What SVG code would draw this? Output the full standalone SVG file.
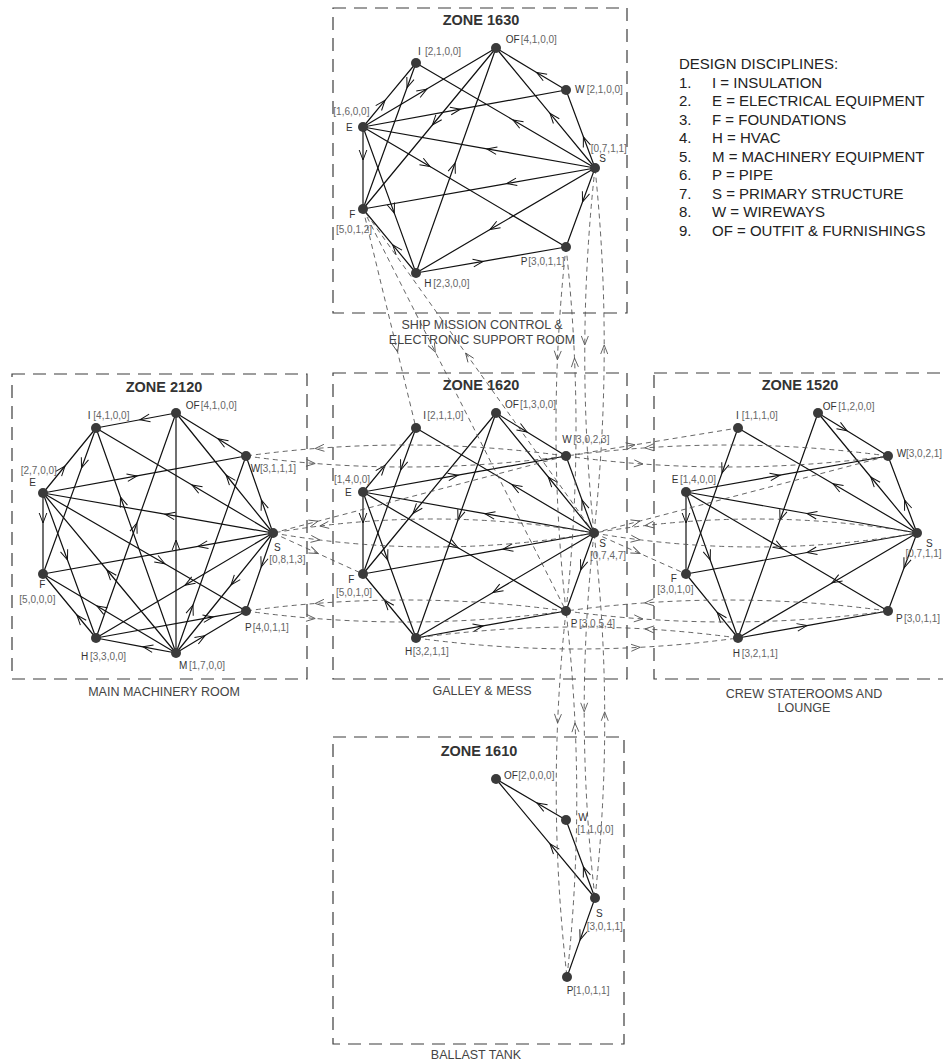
<svg xmlns="http://www.w3.org/2000/svg" width="943" height="1061" viewBox="0 0 943 1061">
<defs>
<style>
text{font-family:"Liberation Sans",Arial,sans-serif}
.zone{fill:none;stroke:#3c3c3c;stroke-width:1.2;stroke-dasharray:13 8}
.title{font-size:14.5px;font-weight:bold;fill:#333;text-anchor:middle}
.cap{font-size:12.5px;fill:#444;text-anchor:middle}
.n{fill:#3a3a3a}
.l{font-size:10px;fill:#333}
.b{font-size:10px;fill:#666}
.e{fill:none;stroke:#111;stroke-width:1.2;marker-mid:url(#a)}
.d{fill:none;stroke:#555;stroke-width:0.9;stroke-dasharray:5 4;marker-mid:url(#ad)}
.leg{font-size:15px;fill:#222}
</style>
<marker id="a" viewBox="-11 -5 13 10" refX="0" refY="0" markerWidth="13" markerHeight="10" markerUnits="userSpaceOnUse" orient="auto"><path d="M-10,-3.8L0,0L-10,3.8" fill="none" stroke="#111" stroke-width="1"/></marker>
<marker id="ad" viewBox="-11 -5 13 10" refX="0" refY="0" markerWidth="13" markerHeight="10" markerUnits="userSpaceOnUse" orient="auto"><path d="M-9,-3.5L0,0L-9,3.5" fill="none" stroke="#555" stroke-width="0.9"/></marker>
</defs>
<rect width="943" height="1061" fill="#fff"/>

<g id="zones">
<g id="zone-1630"><rect class="zone" x="333" y="8" width="294" height="305"/><text class="title" x="481" y="25">ZONE 1630</text><text class="cap" x="482" y="329">SHIP MISSION CONTROL &amp;</text><text class="cap" x="482" y="344">ELECTRONIC SUPPORT ROOM</text></g>
<g id="zone-2120"><rect class="zone" x="12" y="374" width="295" height="305"/><text class="title" x="164" y="392">ZONE 2120</text><text class="cap" x="164" y="696">MAIN MACHINERY ROOM</text></g>
<g id="zone-1620"><rect class="zone" x="333" y="373" width="294" height="306"/><text class="title" x="481" y="390">ZONE 1620</text><text class="cap" x="482" y="695">GALLEY &amp; MESS</text></g>
<g id="zone-1520"><rect class="zone" x="654" y="373" width="300" height="306"/><text class="title" x="800" y="390">ZONE 1520</text><text class="cap" x="804" y="698">CREW STATEROOMS AND</text><text class="cap" x="804" y="712">LOUNGE</text></g>
<g id="zone-1610"><rect class="zone" x="333" y="737" width="291" height="307"/><text class="title" x="479" y="756">ZONE 1610</text><text class="cap" x="476" y="1059">BALLAST TANK</text></g>
</g>

<g id="legend">
<text class="leg" x="679" y="69">DESIGN DISCIPLINES:</text>
<text class="leg" x="679" y="87.5">1.</text><text class="leg" x="712" y="87.5">I = INSULATION</text>
<text class="leg" x="679" y="106">2.</text><text class="leg" x="712" y="106">E = ELECTRICAL EQUIPMENT</text>
<text class="leg" x="679" y="124.5">3.</text><text class="leg" x="712" y="124.5">F = FOUNDATIONS</text>
<text class="leg" x="679" y="143">4.</text><text class="leg" x="712" y="143">H = HVAC</text>
<text class="leg" x="679" y="161.5">5.</text><text class="leg" x="712" y="161.5">M = MACHINERY EQUIPMENT</text>
<text class="leg" x="679" y="180">6.</text><text class="leg" x="712" y="180">P = PIPE</text>
<text class="leg" x="679" y="198.5">7.</text><text class="leg" x="712" y="198.5">S = PRIMARY STRUCTURE</text>
<text class="leg" x="679" y="217">8.</text><text class="leg" x="712" y="217">W = WIREWAYS</text>
<text class="leg" x="679" y="235.5">9.</text><text class="leg" x="712" y="235.5">OF = OUTFIT &amp; FURNISHINGS</text>
</g>

<g id="connectors">
<!-- zone 1630 -->
<path class="e" d="M566,90 L536.6,72.4 L496,48"/>
<path class="e" d="M595,168 L583.4,136.8 L566,90"/>
<path class="e" d="M363,127 L460.4,109.2 L566,90"/>
<path class="e" d="M595,168 L486.9,148.9 L363,127"/>
<path class="e" d="M595,168 L513,119.9 L416,63"/>
<path class="e" d="M595,168 L550,113.4 L496,48"/>
<path class="e" d="M363,127 L385,100.4 L416,63"/>
<path class="e" d="M363,127 L426.8,89.1 L496,48"/>
<path class="e" d="M416,63 L407,87.8 L363,209"/>
<path class="e" d="M363,127 L394.3,213.1 L416,273"/>
<path class="e" d="M363,127 L430,166.6 L566,247"/>
<path class="e" d="M496,48 L432.4,125 L363,209"/>
<path class="e" d="M416,273 L455.1,163 L496,48"/>
<path class="e" d="M363,127 L363,160 L363,209"/>
<path class="e" d="M595,168 L506.8,183.6 L363,209"/>
<path class="e" d="M595,168 L490,229.6 L416,273"/>
<path class="e" d="M595,168 L582.5,202 L566,247"/>
<path class="e" d="M416,273 L483,261.4 L566,247"/>
<path class="e" d="M416,273 L392.7,244.8 L363,209"/>
<!-- zone 2120 -->
<path class="e" d="M176,413 L140,419.75 L96,428"/>
<path class="e" d="M246,456 L218,438.8 L176,413"/>
<path class="e" d="M43,493 L65,466 L96,428"/>
<path class="e" d="M43,493 L137,475.9 L246,456"/>
<path class="e" d="M273,533 L165,514.2 L43,493"/>
<path class="e" d="M273,533 L192,484.9 L96,428"/>
<path class="e" d="M273,533 L261.4,500 L246,456"/>
<path class="e" d="M273,533 L226.1,475 L176,413"/>
<path class="e" d="M96,428 L81.5,468 L43,574"/>
<path class="e" d="M176,653 L120.5,497 L96,428"/>
<path class="e" d="M176,653 L176,540 L176,413"/>
<path class="e" d="M96,638 L136.9,523 L176,413"/>
<path class="e" d="M43,493 L43,523 L43,574"/>
<path class="e" d="M43,493 L67.5,560 L96,638"/>
<path class="e" d="M176,653 L107,570 L43,493"/>
<path class="e" d="M43,493 L164.8,563.8 L246,611"/>
<path class="e" d="M273,533 L198,546.4 L43,574"/>
<path class="e" d="M273,533 L185,585.2 L96,638"/>
<path class="e" d="M273,533 L261.2,567 L246,611"/>
<path class="e" d="M273,533 L231,585 L176,653"/>
<path class="e" d="M176,653 L143,646.8 L96,638"/>
<path class="e" d="M176,653 L205,635.6 L246,611"/>
<path class="e" d="M176,653 L193,605 L246,456"/>
<path class="e" d="M176,653 L97,606 L43,574"/>
<path class="e" d="M96,638 L213,616.9 L246,611"/>
<path class="e" d="M96,638 L76.9,615 L43,574"/>
<!-- zone 1620 -->
<path class="e" d="M496,413 L527,432 L566,456"/>
<path class="e" d="M363,492 L385,465.4 L416,428"/>
<path class="e" d="M416,428 L400.7,470 L363,574"/>
<path class="e" d="M363,492 L458,475.2 L566,456"/>
<path class="e" d="M594,533 L512,484.6 L416,428"/>
<path class="e" d="M594,533 L548.3,477 L496,413"/>
<path class="e" d="M594,533 L582,500 L566,456"/>
<path class="e" d="M594,533 L485,513.7 L363,492"/>
<path class="e" d="M496,413 L413,513.5 L363,574"/>
<path class="e" d="M496,413 L458,520 L416,638"/>
<path class="e" d="M363,492 L363,523 L363,574"/>
<path class="e" d="M363,492 L387.7,560 L416,638"/>
<path class="e" d="M363,492 L458,547.7 L566,611"/>
<path class="e" d="M594,533 L503,549.2 L363,574"/>
<path class="e" d="M594,533 L493,592.5 L416,638"/>
<path class="e" d="M594,533 L580.7,570 L566,611"/>
<path class="e" d="M416,638 L483,625.9 L566,611"/>
<path class="e" d="M416,638 L384.5,600 L363,574"/>
<!-- zone 1520 -->
<path class="e" d="M818,413 L847,430.8 L888,456"/>
<path class="e" d="M917,533 L833,483.7 L738,428"/>
<path class="e" d="M917,533 L870.8,477 L818,413"/>
<path class="e" d="M917,533 L904.6,500 L888,456"/>
<path class="e" d="M686,492 L780,475.2 L888,456"/>
<path class="e" d="M917,533 L807,513.5 L686,492"/>
<path class="e" d="M738,428 L722,473 L686,574"/>
<path class="e" d="M818,413 L780,520 L738,638"/>
<path class="e" d="M686,492 L686,523 L686,574"/>
<path class="e" d="M686,492 L710.2,560 L738,638"/>
<path class="e" d="M686,492 L783,549.1 L888,611"/>
<path class="e" d="M917,533 L807,552.5 L686,574"/>
<path class="e" d="M917,533 L832,582.9 L738,638"/>
<path class="e" d="M917,533 L904,568 L888,611"/>
<path class="e" d="M738,638 L807,625.6 L888,611"/>
<path class="e" d="M738,638 L717.2,612.4 L686,574"/>
<!-- zone 1610 -->
<path class="e" d="M566,820 L537,803 L496,779"/>
<path class="e" d="M595,898 L550,843.9 L496,779"/>
<path class="e" d="M595,898 L583.4,866.8 L566,820"/>
<path class="e" d="M595,898 L580.1,939.9 L567,977"/>
<!-- inter-zone -->
<path class="d" d="M566,456 Q440.6,438.8 315.2,448.5 Q280.6,451.2 246,456"/>
<path class="d" d="M246,456 Q280.6,460.8 315.2,463.5 Q440.6,473.2 566,456"/>
<path class="d" d="M888,456 Q766.4,439.4 644.8,447.9 Q605.4,450.6 566,456"/>
<path class="d" d="M566,456 Q604.5,461.3 643,464 Q765.5,472.7 888,456"/>
<path class="d" d="M566,456 L635,444.8 L738,428"/>
<path class="d" d="M594,533 Q456.9,509.1 319.8,526 Q296.4,528.9 273,533"/>
<path class="d" d="M273,533 Q296.4,537.1 319.8,540 Q456.9,556.9 594,533"/>
<path class="d" d="M273,533 L318,521.2 L566,456"/>
<path class="d" d="M273,533 L318,553.5 L363,574"/>
<path class="d" d="M566,611 Q440.6,593.8 315.2,603.5 Q280.6,606.2 246,611"/>
<path class="d" d="M246,611 Q280.6,615.8 315.2,618.5 Q440.6,628.2 566,611"/>
<path class="d" d="M888,611 Q766.4,594.4 644.8,602.9 Q605.4,605.6 566,611"/>
<path class="d" d="M566,611 Q604.5,616.3 643,619 Q765.5,627.7 888,611"/>
<path class="d" d="M917,533 Q781,509.4 645,525.6 Q619.5,528.6 594,533"/>
<path class="d" d="M594,533 Q616.9,537 639.8,539.8 Q778.4,557 917,533"/>
<path class="d" d="M594,533 L640,521 L888,456"/>
<path class="d" d="M594,533 L640,553.5 L686,574"/>
<path class="d" d="M738,638 Q691.5,631.6 645,628.9 Q530.5,622.4 416,638"/>
<path class="d" d="M416,638 Q528.1,653.3 640.2,647.3 Q689.1,644.7 738,638"/>
<path class="d" d="M363,209 L397.6,352 L416,428"/>
<path class="d" d="M363,209 L435.3,352 L566,611"/>
<path class="d" d="M594,533 L465.6,353 L363,209"/>
<path class="d" d="M566,247 Q559.8,303.4 557.4,359.8 Q552.2,485.4 566,611"/>
<path class="d" d="M566,611 Q579.9,484.5 574.5,358 Q572.1,302.5 566,247"/>
<path class="d" d="M595,168 Q585.3,256.5 584.8,345 Q584.2,439 594,533"/>
<path class="d" d="M594,533 Q604.3,439 604.2,345 Q604.2,256.5 595,168"/>
<path class="d" d="M594,533 Q584.2,622.4 584.2,711.8 Q584.3,804.9 595,898"/>
<path class="d" d="M595,898 Q605.2,804.9 604.7,711.8 Q604.3,622.4 594,533"/>
<path class="d" d="M566,611 Q559.9,667 557.6,723 Q552.4,850 567,977"/>
<path class="d" d="M567,977 Q580.9,850 575,723 Q572.4,667 566,611"/>
</g>

<g id="nodes">
<!-- zone 1630 -->
<g id="n1630-I"><circle class="n" cx="416" cy="63" r="5"/><text class="l" x="418" y="55">I</text><text class="b" x="425" y="55">[2,1,0,0]</text></g>
<g id="n1630-OF"><circle class="n" cx="496" cy="48" r="5"/><text class="l" x="505.7" y="43.3">OF</text><text class="b" x="520.7" y="43.3">[4,1,0,0]</text></g>
<g id="n1630-W"><circle class="n" cx="566" cy="90" r="5"/><text class="l" x="575" y="93">W</text><text class="b" x="586.7" y="93">[2,1,0,0]</text></g>
<g id="n1630-E"><circle class="n" cx="363" cy="127" r="5"/><text class="b" x="333.3" y="115">[1,6,0,0]</text><text class="l" x="346" y="130.7">E</text></g>
<g id="n1630-S"><circle class="n" cx="595" cy="168" r="5"/><text class="b" x="590.7" y="151.7">[0,7,1,1]</text><text class="l" x="599.3" y="162">S</text></g>
<g id="n1630-F"><circle class="n" cx="363" cy="209" r="5"/><text class="l" x="349.3" y="217.7">F</text><text class="b" x="336" y="233.3">[5,0,1,2]</text></g>
<g id="n1630-H"><circle class="n" cx="416" cy="273" r="5"/><text class="l" x="424.3" y="287.3">H</text><text class="b" x="433.3" y="287.3">[2,3,0,0]</text></g>
<g id="n1630-P"><circle class="n" cx="566" cy="247" r="5"/><text class="l" x="520.7" y="265.3">P</text><text class="b" x="528.3" y="265.3">[3,0,1,1]</text></g>
<!-- zone 2120 -->
<g id="n2120-I"><circle class="n" cx="96" cy="428" r="5"/><text class="l" x="87.7" y="419">I</text><text class="b" x="93.3" y="419">[4,1,0,0]</text></g>
<g id="n2120-OF"><circle class="n" cx="176" cy="413" r="5"/><text class="l" x="185.7" y="409">OF</text><text class="b" x="200.7" y="409">[4,1,0,0]</text></g>
<g id="n2120-W"><circle class="n" cx="246" cy="456" r="5"/><text class="l" x="250.7" y="471.7">W</text><text class="b" x="260" y="471.7">[3,1,1,1]</text></g>
<g id="n2120-E"><circle class="n" cx="43" cy="493" r="5"/><text class="b" x="20.7" y="474.3">[2,7,0,0]</text><text class="l" x="29.3" y="486">E</text></g>
<g id="n2120-S"><circle class="n" cx="273" cy="533" r="5"/><text class="l" x="274" y="550.7">S</text><text class="b" x="269.3" y="562.7">[0,8,1,3]</text></g>
<g id="n2120-F"><circle class="n" cx="43" cy="574" r="5"/><text class="l" x="39.3" y="588.3">F</text><text class="b" x="19.3" y="602.7">[5,0,0,0]</text></g>
<g id="n2120-P"><circle class="n" cx="246" cy="611" r="5"/><text class="l" x="245" y="631">P</text><text class="b" x="252.7" y="631">[4,0,1,1]</text></g>
<g id="n2120-H"><circle class="n" cx="96" cy="638" r="5"/><text class="l" x="81" y="660">H</text><text class="b" x="90" y="660">[3,3,0,0]</text></g>
<g id="n2120-M"><circle class="n" cx="176" cy="653" r="5"/><text class="l" x="179" y="669.3">M</text><text class="b" x="189" y="669.3">[1,7,0,0]</text></g>
<!-- zone 1620 -->
<g id="n1620-I"><circle class="n" cx="416" cy="428" r="5"/><text class="l" x="423.3" y="419.3">I</text><text class="b" x="427.3" y="419.3">[2,1,1,0]</text></g>
<g id="n1620-OF"><circle class="n" cx="496" cy="413" r="5"/><text class="l" x="505" y="408.3">OF</text><text class="b" x="520" y="408.3">[1,3,0,0]</text></g>
<g id="n1620-W"><circle class="n" cx="566" cy="456" r="5"/><text class="l" x="562.3" y="443.3">W</text><text class="b" x="573.3" y="443.3">[3,0,2,3]</text></g>
<g id="n1620-E"><circle class="n" cx="363" cy="492" r="5"/><text class="b" x="334" y="482.7">[1,4,0,0]</text><text class="l" x="345" y="496">E</text></g>
<g id="n1620-S"><circle class="n" cx="594" cy="533" r="5"/><text class="l" x="599.3" y="547.3">S</text><text class="b" x="590" y="559.3">[0,7,4,7]</text></g>
<g id="n1620-F"><circle class="n" cx="363" cy="574" r="5"/><text class="l" x="348.3" y="582.7">F</text><text class="b" x="336" y="596">[5,0,1,0]</text></g>
<g id="n1620-P"><circle class="n" cx="566" cy="611" r="5"/><text class="l" x="570.7" y="627.3">P</text><text class="b" x="579" y="627.3">[3,0,5,4]</text></g>
<g id="n1620-H"><circle class="n" cx="416" cy="638" r="5"/><text class="l" x="405" y="655.3">H</text><text class="b" x="412.7" y="655.3">[3,2,1,1]</text></g>
<!-- zone 1520 -->
<g id="n1520-I"><circle class="n" cx="738" cy="428" r="5"/><text class="l" x="736" y="419.3">I</text><text class="b" x="741.7" y="419.3">[1,1,1,0]</text></g>
<g id="n1520-OF"><circle class="n" cx="818" cy="413" r="5"/><text class="l" x="822.7" y="410">OF</text><text class="b" x="838.3" y="410">[1,2,0,0]</text></g>
<g id="n1520-W"><circle class="n" cx="888" cy="456" r="5"/><text class="l" x="896.7" y="457.3">W</text><text class="b" x="906" y="457.3">[3,0,2,1]</text></g>
<g id="n1520-E"><circle class="n" cx="686" cy="492" r="5"/><text class="l" x="671.7" y="483.3">E</text><text class="b" x="680" y="483.3">[1,4,0,0]</text></g>
<g id="n1520-S"><circle class="n" cx="917" cy="533" r="5"/><text class="l" x="926" y="547.3">S</text><text class="b" x="905.5" y="556.7">[0,7,1,1]</text></g>
<g id="n1520-F"><circle class="n" cx="686" cy="574" r="5"/><text class="l" x="670.7" y="582.3">F</text><text class="b" x="657.3" y="593.3">[3,0,1,0]</text></g>
<g id="n1520-P"><circle class="n" cx="888" cy="611" r="5"/><text class="l" x="896" y="622.3">P</text><text class="b" x="904" y="622.3">[3,0,1,1]</text></g>
<g id="n1520-H"><circle class="n" cx="738" cy="638" r="5"/><text class="l" x="732.7" y="656.7">H</text><text class="b" x="741.7" y="656.7">[3,2,1,1]</text></g>
<!-- zone 1610 -->
<g id="n1610-OF"><circle class="n" cx="496" cy="779" r="5"/><text class="l" x="504" y="779.3">OF</text><text class="b" x="518.3" y="779.3">[2,0,0,0]</text></g>
<g id="n1610-W"><circle class="n" cx="566" cy="820" r="5"/><text class="l" x="578.3" y="821">W</text><text class="b" x="577.3" y="832.7">[1,1,0,0]</text></g>
<g id="n1610-S"><circle class="n" cx="595" cy="898" r="5"/><text class="l" x="596" y="917.3">S</text><text class="b" x="586.7" y="930">[3,0,1,1]</text></g>
<g id="n1610-P"><circle class="n" cx="567" cy="977" r="5"/><text class="l" x="566.7" y="994">P</text><text class="b" x="573.3" y="994">[1,0,1,1]</text></g>
</g>
</svg>
